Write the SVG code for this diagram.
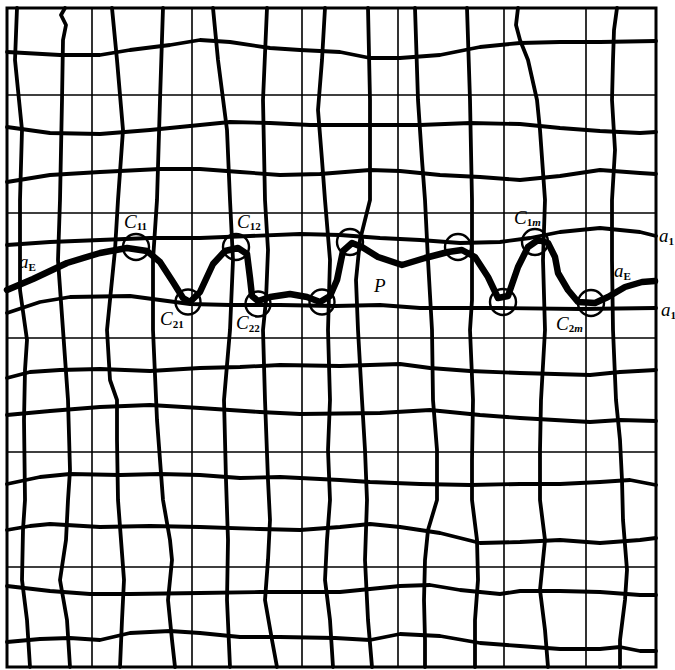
<svg xmlns="http://www.w3.org/2000/svg" width="675" height="670" viewBox="0 0 675 670">
<style>
.thin{fill:none;stroke:#000;stroke-width:1.6}
.thick{fill:none;stroke:#000;stroke-width:3.8;stroke-linecap:round;stroke-linejoin:round}
.curve{fill:none;stroke:#000;stroke-width:6.5;stroke-linecap:round;stroke-linejoin:round}
.ring{fill:none;stroke:#000;stroke-width:2.4}
.lbl{font-family:"Liberation Serif","Times New Roman",serif;font-style:italic;font-size:19px;fill:#000}
.sub{font-style:normal;font-weight:bold;font-size:11px}
</style>
<rect width="675" height="670" fill="#fff"/>
<g id="thin-grid">
<path class="thin" d="M92,8V667M192,8V667M302,8V667M398,8V667M504,8V667M586,8V667"/>
<path class="thin" d="M7,95H656M7,213H656M7,338H656M7,452H656M7,567H656"/>
</g>
<g id="border">
<path fill="none" stroke="#000" stroke-width="3" d="M7,8H656V667H7Z"/>
</g>
<g id="thick-verticals">
<path class="thick" d="M17,8 L15,60 22,130 20,200 20,290 27,340 25,370 24,420 25,500 23,530 22,580 27,620 30,667"/>
<path class="thick" d="M65,8 L61,15 66,25 63,40 62,100 60,200 58,260 63,330 68,400 70,470 68,500 66,540 60,580 67,620 70,667"/>
<path class="thick" d="M112,8 L117,60 123,130 118,200 115,250 107,330 110,380 117,400 117,440 118,500 121,540 124,580 122,620 120,667"/>
<path class="thick" d="M163,8 L160,100 157,200 153,260 153,330 157,420 163,500 170,540 172,560 168,600 172,640 175,667"/>
<path class="thick" d="M213,8 L218,60 227,130 230,200 233,260 230,330 224,400 226,480 228,540 227,600 230,667"/>
<path class="thick" d="M267,8 L263,100 265,200 268,250 266,300 263,330 265,400 268,480 270,520 268,560 265,600 272,640 277,667"/>
<path class="thick" d="M325,8 L322,60 318,110 322,160 325,200 330,260 328,330 330,400 328,450 330,500 327,540 325,580 330,620 333,667"/>
<path class="thick" d="M368,8 L370,100 370,200 360,240 356,280 358,330 362,400 365,450 367,500 365,560 368,620 372,667"/>
<path class="thick" d="M415,8 L418,100 422,160 425,200 428,260 432,330 433,400 437,450 437,500 428,530 425,560 424,600 425,640 425,667"/>
<path class="thick" d="M467,8 L470,100 472,200 472,300 470,330 473,400 472,460 472,500 477,540 478,580 475,620 475,667"/>
<path class="thick" d="M518,8 L516,25 520,40 528,60 537,100 540,130 545,200 543,260 545,330 541,400 540,450 540,500 545,540 540,590 545,630 548,667"/>
<path class="thick" d="M617,8 L614,30 613,60 612,100 615,150 612,200 612,260 613,330 616,400 620,440 622,480 623,520 627,570 625,600 620,640 620,667"/>
</g>
<g id="thick-horizontals">
<path class="thick" d="M7,52 L60,55 100,55 130,50 170,45 200,40 230,42 270,48 300,50 340,52 370,58 400,58 440,55 480,47 520,43 560,42 600,42 656,41"/>
<path class="thick" d="M7,127 L50,133 100,134 150,130 200,125 230,122 270,123 310,125 380,125 420,125 470,123 520,124 560,128 600,131 640,133 656,132"/>
<path class="thick" d="M7,182 L50,175 100,172 160,169 200,169 240,172 280,175 320,174 370,170 400,171 440,175 480,177 520,180 560,176 600,170 640,173 656,174"/>
<path class="thick" d="M7,245 L50,242 100,240 150,238 200,238 250,236 300,234 340,235 380,238 420,240 460,243 500,242 530,238 560,232 600,228 640,232 656,236"/>
<path class="thick" d="M7,313 L40,302 70,297 130,296 160,300 190,304 230,305 280,305 335,306 380,305 420,308 500,308 580,309 656,308"/>
<path class="thick" d="M7,378 L30,372 60,370 100,369 150,371 200,368 240,367 280,365 340,366 400,364 430,368 470,371 520,373 590,375 620,372 656,370"/>
<path class="thick" d="M7,415 L50,411 100,407 150,405 200,408 260,412 300,414 380,413 430,410 480,415 520,418 590,422 620,420 656,421"/>
<path class="thick" d="M7,484 L40,477 70,474 120,475 160,474 200,475 240,478 280,477 340,480 370,482 420,484 470,485 520,484 560,484 600,482 630,480 656,485"/>
<path class="thick" d="M7,530 L30,526 50,524 100,527 150,526 200,527 260,529 300,530 340,527 370,524 400,527 440,533 480,543 520,542 560,540 600,543 640,540 656,538"/>
<path class="thick" d="M7,586 L50,591 90,594 130,594 200,593 260,592 340,592 370,589 400,586 430,585 460,590 500,594 520,591 560,591 600,592 640,595 656,595"/>
<path class="thick" d="M7,642 L40,639 70,638 100,640 130,633 170,631 200,633 240,637 280,637 335,638 370,640 400,634 440,636 480,643 520,646 560,649 600,649 620,647 640,651 656,651"/>
</g>
<g id="curve-aE">
<path class="curve" d="M7,290 L33,279 67,263 100,253 127,248 147,251 160,262 173,282 183,298 190,302 200,292 213,264 225,251 238,248 247,254 250,278 252,296 258,301 270,297 290,294 307,297 320,302 330,296 337,280 343,251 352,243 362,247 378,257 402,265 425,258 448,252 462,250 475,257 488,277 498,298 508,296 518,267 528,247 538,240 548,243 555,257 558,273 568,290 578,302 595,303 608,297 625,287 642,282 655,281"/>
</g>
<g id="circles">
<circle class="ring" cx="136" cy="247" r="13"/>
<circle class="ring" cx="236" cy="247" r="13"/>
<circle class="ring" cx="188" cy="302" r="12.5"/>
<circle class="ring" cx="258" cy="304" r="12.5"/>
<circle class="ring" cx="322" cy="302" r="12.5"/>
<circle class="ring" cx="350" cy="242" r="13"/>
<circle class="ring" cx="458" cy="247" r="13"/>
<circle class="ring" cx="503" cy="302" r="13"/>
<circle class="ring" cx="535" cy="242" r="13"/>
<circle class="ring" cx="591" cy="303" r="13"/>
</g>
<g id="labels">
<text class="lbl" x="124" y="228">C<tspan class="sub" dy="2">11</tspan></text>
<text class="lbl" x="237" y="228">C<tspan class="sub" dy="2">12</tspan></text>
<text class="lbl" x="160" y="325">C<tspan class="sub" dy="3">21</tspan></text>
<text class="lbl" x="236" y="329">C<tspan class="sub" dy="3">22</tspan></text>
<text class="lbl" x="514" y="224">C<tspan class="sub" dy="2">1<tspan font-style="italic">m</tspan></tspan></text>
<text class="lbl" x="556" y="330">C<tspan class="sub" dy="2">2<tspan font-style="italic">m</tspan></tspan></text>
<text class="lbl" x="374" y="292">P</text>
<text class="lbl" x="19" y="268">a<tspan class="sub" dy="3" font-style="italic">E</tspan></text>
<text class="lbl" x="614" y="277">a<tspan class="sub" dy="3" font-style="italic">E</tspan></text>
<text class="lbl" x="659" y="242">a<tspan class="sub" dy="3">1</tspan></text>
<text class="lbl" x="661" y="316">a<tspan class="sub" dy="3">1</tspan></text>
</g>
</svg>
